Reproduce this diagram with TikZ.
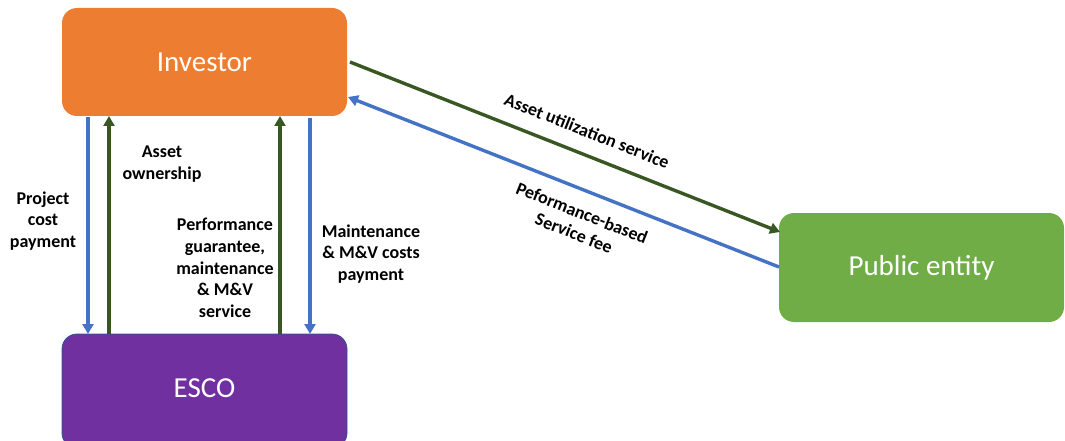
\documentclass[tikz,border=0pt]{standalone}
\usepackage{fontspec}
\setmainfont{Carlito}
\usetikzlibrary{arrows.meta}
\definecolor{invorange}{HTML}{ED7D31}
\definecolor{escopurple}{HTML}{7030A0}
\definecolor{pubgreen}{HTML}{70AD47}
\definecolor{flowblue}{HTML}{4472C4}
\definecolor{flowgreen}{HTML}{385723}
\definecolor{edgeblue}{HTML}{2F528F}
\begin{document}
\begin{tikzpicture}[x=1pt,y=-1pt,
  boxtext/.style={inner sep=0pt, text=white, font=\fontsize{29}{34}\selectfont},
  bluearrow/.style={draw=flowblue, line width=3.4pt, -{Triangle[length=10pt,width=11pt]}},
  greenarrow/.style={draw=flowgreen, line width=3.4pt, -{Triangle[length=10pt,width=11pt]}},
  lbl/.style={font=\bfseries\fontsize{18}{21.7}\selectfont, align=center, inner sep=0pt}]
\useasboundingbox (0,0) rectangle (1065,441);
% boxes
\fill[invorange, rounded corners=15pt] (62,8) rectangle (347,116);
\node[boxtext] (inv) at (204.5,62) {Investor};
\filldraw[fill=escopurple, draw=edgeblue, line width=0.8pt, rounded corners=15pt] (62,334) rectangle (347,448);
\node[boxtext] (esco) at (204.5,388) {ESCO};
\fill[pubgreen, rounded corners=15pt] (779,213) rectangle (1064,322);
\node[boxtext] (pub) at (921.5,268) {Public entity};
% connector anchors
\coordinate (i1) at (88,117); \coordinate (e1) at (88,334);
\coordinate (i2) at (109,116); \coordinate (e2) at (109,334);
\coordinate (i3) at (280,116); \coordinate (e3) at (280,334);
\coordinate (i4) at (310,118); \coordinate (e4) at (310,334);
\coordinate (ia) at (350,62); \coordinate (pa) at (780,232);
\coordinate (ib) at (348,97); \coordinate (pb) at (779,267);
% arrows
\draw[bluearrow] (i1) -- (e1);
\draw[greenarrow] (e2) -- (i2);
\draw[greenarrow] (e3) -- (i3);
\draw[bluearrow] (i4) -- (e4);
\draw[greenarrow] (ia) -- (pa);
\draw[bluearrow] (pb) -- (ib);
% labels
\node[lbl] (l1) at (43,221) {Project\\cost\\payment};
\node[lbl] (l2) at (162,164) {Asset\\ownership};
\node[lbl] (l3) at (225,268) {Performance\\guarantee,\\maintenance\\\& M\&V\\service};
\node[lbl] (l4) at (371,254) {Maintenance\\\& M\&V costs\\payment};
\node[lbl, rotate=-21.6] (l5) at (587,131) {Asset utilization service};
\node[lbl, rotate=-21.6] (l6) at (578,223) {Peformance-based\\Service fee};
\end{tikzpicture}
\end{document}
